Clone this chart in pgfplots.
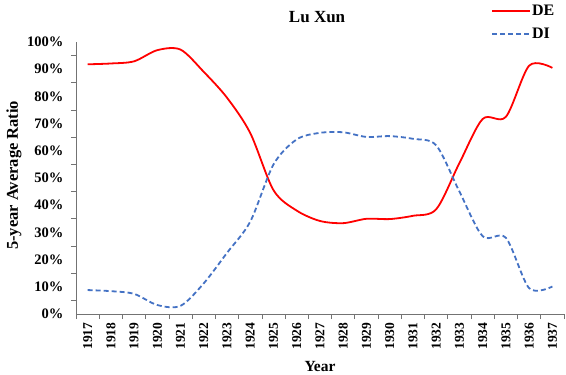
\documentclass[border=0pt]{standalone}
\usepackage{fontspec}
\setmainfont{Liberation Serif}
\usepackage{pgfplots}
\pgfplotsset{compat=1.18}
\definecolor{dered}{RGB}{255,0,0}
\definecolor{diblue}{RGB}{68,114,196}
\begin{document}
\begin{tikzpicture}
\begin{axis}[
  scale only axis,
  width=488pt, height=272pt,
  xmin=-0.5, xmax=20.5,
  ymin=0, ymax=100,
  axis x line*=bottom, axis y line*=left,
  axis line style={black!55, line width=0.8pt},
  xtick={0,...,20},
  xticklabels={1917,1918,1919,1920,1921,1922,1923,1924,1925,1926,1927,1928,1929,1930,1931,1932,1933,1934,1935,1936,1937},
  minor xtick={-0.5,0.5,...,20.5},
  ytick={0,10,...,100},
  minor ytick={5,15,...,95},
  major tick length=0pt,
  minor tick length=5pt,
  tick align=outside,
  tick style={black!55, line width=0.8pt},
  yticklabel={\pgfmathprintnumber{\tick}\%},
  /pgf/number format/assume math mode=true,
  yticklabel style={font=\bfseries\fontsize{14.5}{14.5}\selectfont, anchor=east},
  yticklabel shift=9pt,
  xticklabel style={font=\bfseries\fontsize{13.5}{13.5}\selectfont, rotate=90, anchor=east},
  xticklabel shift=5pt,
  title={Lu Xun},
  title style={at={(axis description cs:0.494,1)}, anchor=center, yshift=19pt, font=\bfseries\fontsize{17}{17}\selectfont},
  xlabel={Year},
  xlabel style={at={(axis description cs:0.5,0)}, anchor=center, yshift=-52pt, font=\bfseries\fontsize{15.5}{15.5}\selectfont},
  ylabel={5-year Average Ratio},
  ylabel style={at={(axis description cs:-0.127,0.51)}, anchor=center, font=\bfseries\fontsize{16.5}{16.5}\selectfont},
  legend style={at={(axis description cs:0,1)}, anchor=north west, xshift=412pt, yshift=40pt,
    draw=none, fill=none, font=\bfseries\fontsize{16}{16}\selectfont, row sep=9pt,
    nodes={inner sep=1pt}},
  legend cell align=left,
  legend image code/.code={\draw[#1] (0pt,0pt) -- (38pt,0pt);},
  clip=false,
]
\addplot[dered, line width=1.8pt, smooth, tension=0.5] coordinates {
(0,91.8) (1,92.1) (2,92.9) (3,97.0) (4,97.2) (5,89.0) (6,79.5) (7,66.5) (8,45.5) (9,38.0)
(10,34.2) (11,33.4) (12,35.0) (13,34.9) (14,36.1) (15,38.5) (16,55.5) (17,71.7) (18,72.5) (19,91.3) (20,90.5)
};
\addlegendentry{DE}
\addplot[diblue, line width=1.8pt, dash pattern=on 5pt off 3pt, smooth, tension=0.5] coordinates {
(0,8.8) (1,8.4) (2,7.4) (3,3.3) (4,3.0) (5,11.3) (6,22.5) (7,34.0) (8,55.0) (9,64.2)
(10,66.6) (11,66.8) (12,65.1) (13,65.4) (14,64.4) (15,62.0) (16,45.0) (17,28.6) (18,28.0) (19,9.5) (20,10.1)
};
\addlegendentry{DI}
\end{axis}
\pgfresetboundingbox
\path ([shift={(-76pt,-60pt)}]current axis.south west) rectangle ([shift={(2pt,42pt)}]current axis.north east);
\end{tikzpicture}
\end{document}
